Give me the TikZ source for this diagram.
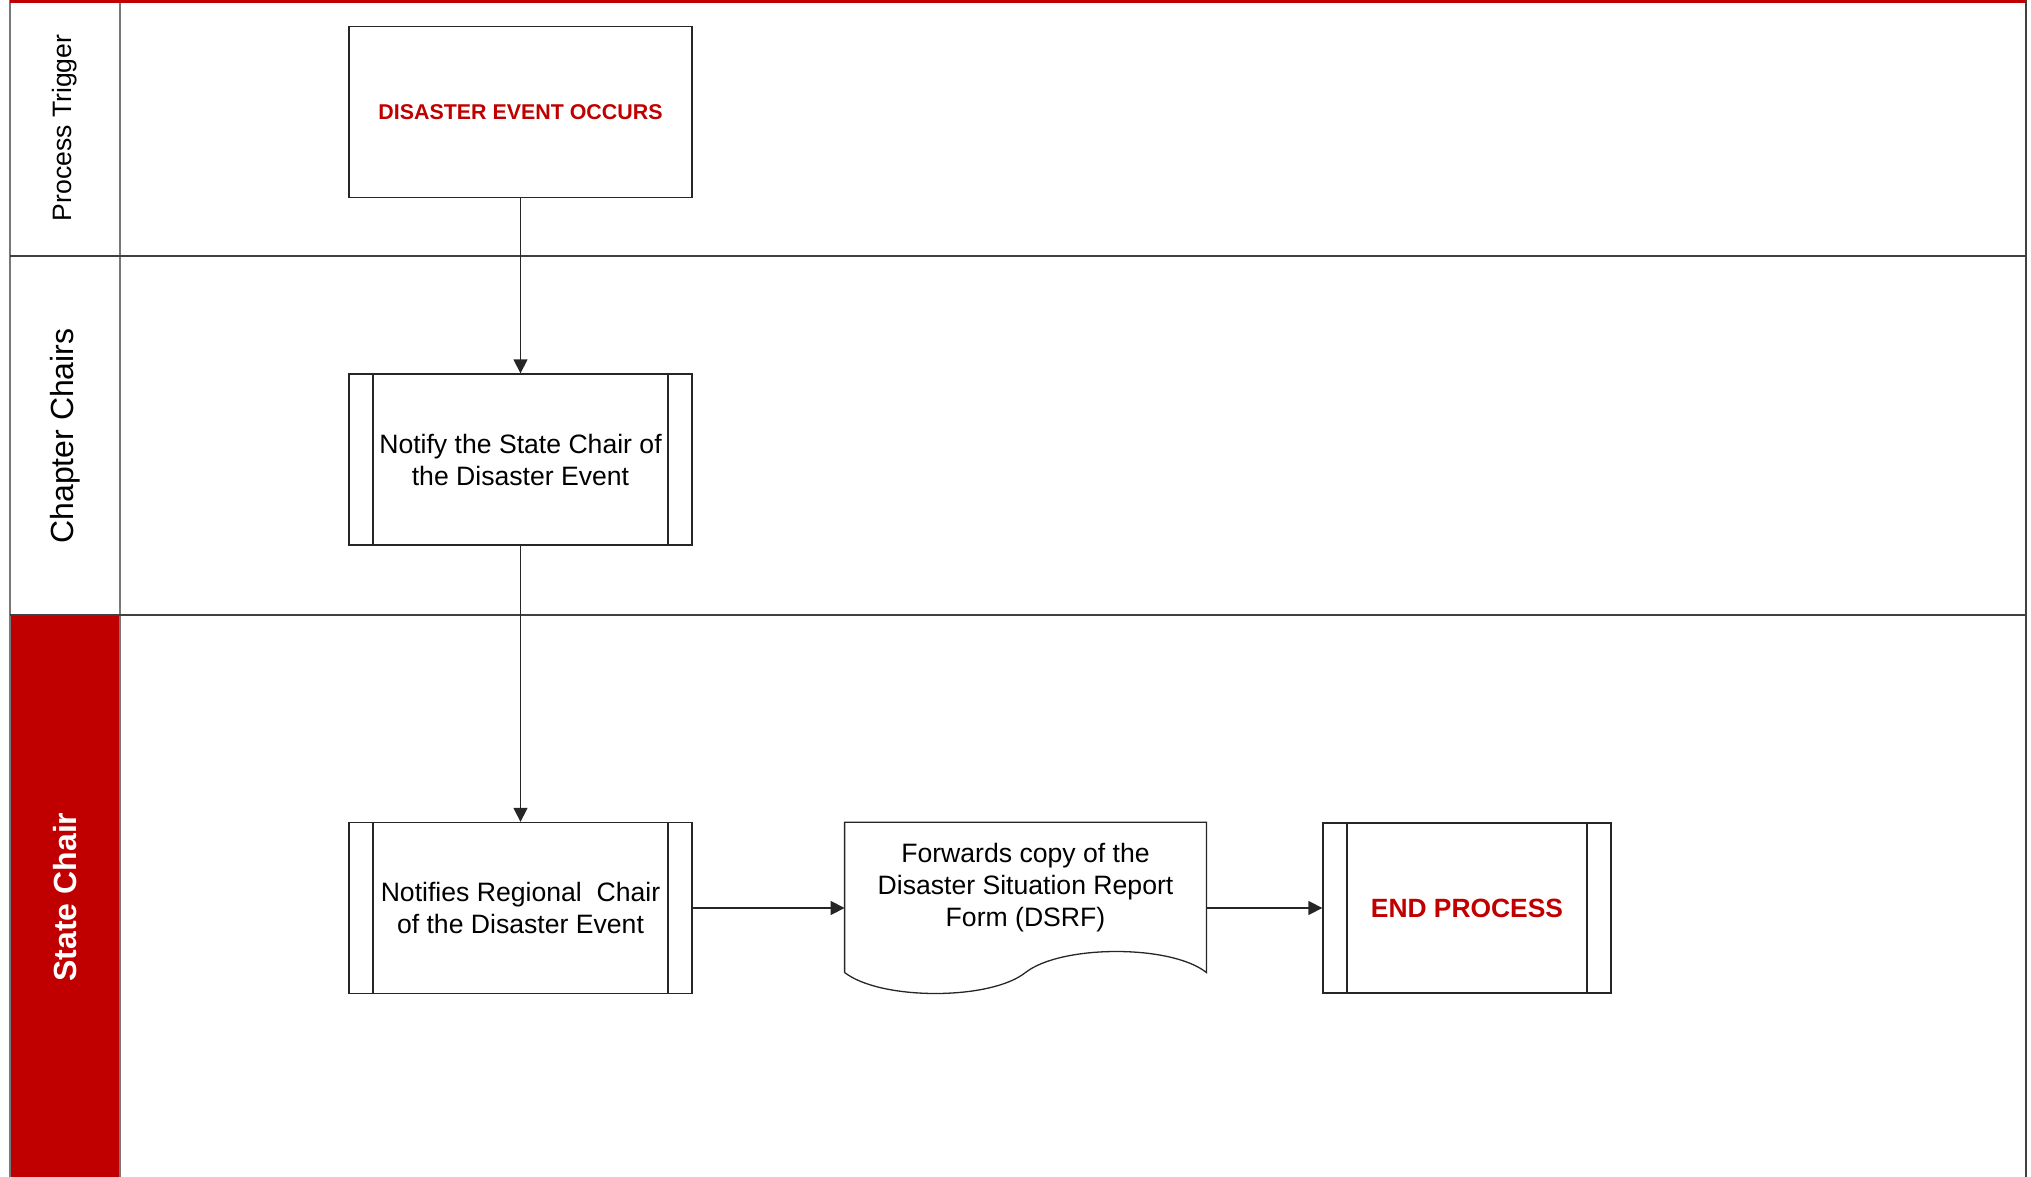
\documentclass[tikz,border=0pt]{standalone}
\usepackage{fontspec}
\setmainfont{Liberation Sans}
\usetikzlibrary{arrows.meta,calc}
\definecolor{lanered}{RGB}{192,0,0}
\definecolor{darkline}{RGB}{64,64,64}
\definecolor{greyline}{RGB}{120,120,120}
\begin{document}
\begin{tikzpicture}[x=0.5pt,y=-0.5pt,
 box/.style={draw=black!85, line width=0.65pt, minimum width=171.5pt, minimum height=85.5pt, inner sep=2pt, align=center, font=\fontsize{13.3}{16}\selectfont},
 subproc/.style={box, path picture={\draw[black!85,line width=0.65pt] ([xshift=12pt]path picture bounding box.north west) -- ([xshift=12pt]path picture bounding box.south west) ([xshift=-12pt]path picture bounding box.north east) -- ([xshift=-12pt]path picture bounding box.south east);}},
 flow/.style={draw=black!85, line width=0.65pt, -{Triangle[length=7pt,width=7pt]}},
 lanetext/.style={rotate=90, anchor=center, inner sep=0pt}
]
\useasboundingbox (0,0) rectangle (2031,1177);
% lanes
\fill[lanered] (10,615) rectangle (120,1177);
\draw[greyline, line width=1pt] (10,0) -- (10,1177) (120,0) -- (120,1177);
\draw[darkline, line width=1pt] (10,256) -- (2026,256) (10,615) -- (2026,615) (2026,0) -- (2026,1177);
\fill[lanered] (10,0) rectangle (2026,3.5);
\node[lanetext, font=\fontsize{13.3}{16}\selectfont] (lanetrig) at (65,128) {Process Trigger};
\node[lanetext, font=\fontsize{16}{19}\selectfont] (lanechap) at (65,436) {Chapter Chairs};
\node[lanetext, font=\bfseries\fontsize{16}{19}\selectfont, text=white] (lanestate) at (65,897) {State Chair};
% nodes
\node[box, font=\bfseries\fontsize{10.7}{13}\selectfont, text=lanered] (trig) at (520.5,112) {DISASTER EVENT OCCURS};
\node[subproc] (notify) at (520.5,459.5) {Notify the State Chair of\\the Disaster Event};
\node[subproc] (regional) at (520.5,908) {Notifies Regional~ Chair\\of the Disaster Event};
\node[subproc, minimum width=144pt, minimum height=85pt, font=\bfseries\fontsize{13.2}{16}\selectfont, text=lanered] (endp) at (1467,908) {END PROCESS};
\node[minimum width=180.5pt, minimum height=74.7pt, inner sep=0pt] (doc) at (1025.5,897.4) {};
\draw[black!85, line width=0.65pt] (doc.south west) -- (doc.north west) -- (doc.north east) -- (doc.south east)
  .. controls ($(doc.south east)+(-35,-28)$) and ($(doc.south east)+(-145,-28)$) .. (doc.south)
  .. controls ($(doc.south)+(-35,28)$) and ($(doc.south)+(-145,28)$) .. (doc.south west);
\node[align=center, font=\fontsize{13.3}{16}\selectfont, inner sep=0pt] (doctext) at (1025.5,888) {Forwards copy of the\\Disaster Situation Report\\Form (DSRF)};
% connectors
\draw[flow] (trig.south) -- (notify.north);
\draw[flow] (notify.south) -- (regional.north);
\draw[flow] (regional.east) -- (regional.east -| doc.west);
\draw[flow] (regional.east -| doc.east) -- (endp.west);
\end{tikzpicture}
\end{document}
